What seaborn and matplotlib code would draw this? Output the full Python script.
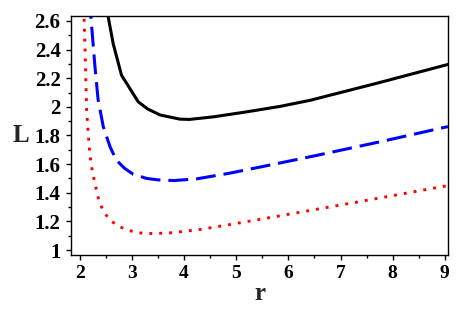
import numpy as np
import pandas as pd
import seaborn as sns
import matplotlib.pyplot as plt
from matplotlib.ticker import MultipleLocator

# valores
r_preto = [2.50, 2.54, 2.64, 2.80, 3.12, 3.30, 3.54, 3.92, 4.10, 4.56, 5.20, 5.84, 6.41, 7.69, 9.07]
L_preto = [2.75, 2.635, 2.44, 2.22, 2.035, 1.985, 1.943, 1.914, 1.912, 1.930, 1.965, 2.003,
           2.045, 2.164, 2.297]

r_azul = [2.17, 2.21, 2.29, 2.35, 2.45, 2.58, 2.70, 2.86, 3.02, 3.28, 3.50, 3.80, 4.24, 4.85,
          5.60, 6.48, 7.76, 9.06]
L_azul = [2.85, 2.635, 2.28, 2.05, 1.86, 1.72, 1.628, 1.57, 1.53, 1.50, 1.490, 1.485, 1.497,
          1.535, 1.59, 1.656, 1.756, 1.862]

r_verm = [2.07, 2.08, 2.10, 2.13, 2.16, 2.19, 2.24, 2.29, 2.37, 2.46, 2.58, 2.74, 2.93, 3.12,
          3.31, 3.69, 4.30, 4.88, 5.84, 7.44, 9.06]
L_verm = [2.80, 2.635, 2.40, 1.98, 1.815, 1.675, 1.546, 1.465, 1.336, 1.267, 1.208, 1.166, 1.138,
          1.120, 1.115, 1.118, 1.143, 1.178, 1.239, 1.343, 1.45]

x_ticks = [2, 3, 4, 5, 6, 7, 8, 9]
y_ticks = [1, 1.2, 1.4, 1.6, 1.8, 2, 2.2, 2.4, 2.6]
y_labels = ['1', '1.2', '1.4', '1.6', '1.8', '2', '2.2', '2.4', '2.6']

sns.set_style('ticks')
plt.rcParams['font.family'] = ['Liberation Serif', 'DejaVu Serif']
plt.rcParams['font.weight'] = 'bold'

fig = plt.figure(figsize=(4.58, 3.18), dpi=100)
ax = fig.add_axes([0.155, 0.198, 0.823, 0.752])

sns.lineplot(x=r_preto, y=L_preto, color='black', linewidth=2.2, sort=False, ax=ax)
sns.lineplot(x=r_azul, y=L_azul, color='#0000FF', linewidth=2.2, sort=False, ax=ax,
             linestyle=(0, (6.5, 2.6)))
sns.lineplot(x=r_verm, y=L_verm, color='#FF0000', linewidth=2.1, sort=False, ax=ax,
             linestyle=(0, (1, 2.4)))

ax.set_xlim(1.83, 9.06)
ax.set_ylim(0.965, 2.635)
ax.set_xticks(x_ticks)
ax.set_xticklabels([str(t) for t in x_ticks], fontsize=14, fontweight='bold')
ax.set_yticks(y_ticks)
ax.set_yticklabels(y_labels, fontsize=15, fontweight='bold')
ax.xaxis.set_minor_locator(MultipleLocator(0.5))
ax.yaxis.set_minor_locator(MultipleLocator(0.1))
ax.tick_params(which='major', direction='out', length=3.5, width=1, pad=4,
               colors='black', top=False, right=False)
ax.tick_params(which='minor', direction='out', length=2, width=1, colors='black',
               top=False, right=False)
for s in ax.spines.values():
    s.set_visible(True)
    s.set_linewidth(1.0)
    s.set_color('black')

ax.set_xlabel('r', fontsize=18, fontweight='bold', labelpad=0)
ax.set_ylabel('L', fontsize=18, fontweight='bold', rotation=0, labelpad=10, va='center')

plt.savefig('out.png', dpi=100)
